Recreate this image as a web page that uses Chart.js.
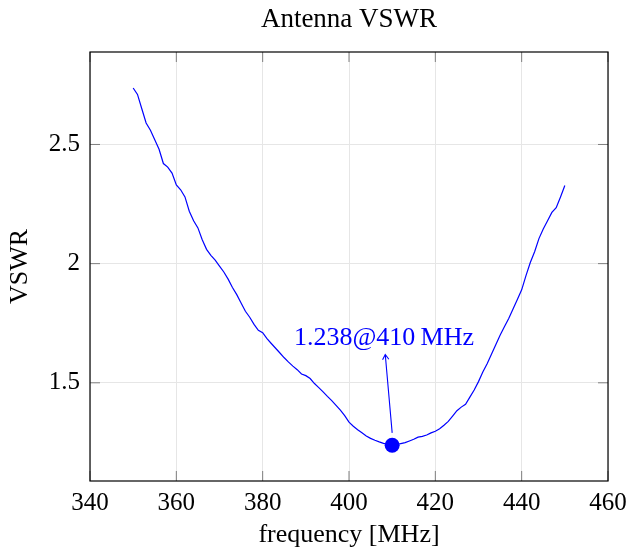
<!DOCTYPE html>
<html>
<head>
<meta charset="utf-8">
<title>Antenna VSWR</title>
<script src="https://cdn.jsdelivr.net/npm/chart.js@4.4.0/dist/chart.umd.min.js"></script>
<style>
  html, body { margin: 0; padding: 0; background: #fff; }
  #vswr-chart { display: block; }
</style>
</head>
<body>
<canvas id="vswr-chart" width="629" height="552"></canvas>
<script>
// measured antenna VSWR, 350 - 450 MHz
var freqs = [
  350, 351, 352, 353, 354, 355, 356, 357, 358, 359,
  360, 361, 362, 363, 364, 365, 366, 367, 368, 369,
  370, 371, 372, 373, 374, 375, 376, 377, 378, 379,
  380, 381, 382, 383, 384, 385, 386, 387, 388, 389,
  390, 391, 392, 393, 394, 395, 396, 397, 398, 399,
  400, 401, 402, 403, 404, 405, 406, 407, 408, 409,
  410, 411, 412, 413, 414, 415, 416, 417, 418, 419,
  420, 421, 422, 423, 424, 425, 426, 427, 428, 429,
  430, 431, 432, 433, 434, 435, 436, 437, 438, 439,
  440, 441, 442, 443, 444, 445, 446, 447, 448, 449,
  450
];
var vswr = [
  2.737, 2.71, 2.65, 2.59, 2.56, 2.52, 2.48, 2.42, 2.405, 2.38,
  2.33, 2.31, 2.28, 2.22, 2.18, 2.15, 2.10, 2.06, 2.035, 2.015,
  1.99, 1.965, 1.935, 1.90, 1.87, 1.835, 1.80, 1.775, 1.745, 1.72,
  1.71, 1.685, 1.665, 1.645, 1.625, 1.605, 1.587, 1.57, 1.555, 1.537,
  1.53, 1.518, 1.497, 1.48, 1.462, 1.443, 1.425, 1.405, 1.385, 1.362,
  1.335, 1.318, 1.303, 1.29, 1.277, 1.267, 1.259, 1.252, 1.246, 1.241,
  1.238, 1.241, 1.245, 1.249, 1.256, 1.263, 1.272, 1.275, 1.281, 1.29,
  1.297, 1.307, 1.322, 1.338, 1.36, 1.383, 1.398, 1.41, 1.44, 1.47,
  1.505, 1.545, 1.58, 1.62, 1.66, 1.70, 1.735, 1.77, 1.81, 1.85,
  1.89, 1.95, 2.005, 2.05, 2.105, 2.145, 2.18, 2.215, 2.235, 2.28,
  2.328
];

// minimum point
var minFreq = 410;
var minVswr = 1.238;

var xTicks = [340, 360, 380, 400, 420, 440, 460];
var yTicks = [1.5, 2, 2.5];
var yTickLabels = ["1.5", "2", "2.5"];

var titleText = "Antenna VSWR";

// annotation: text centre and arrow tip / tail in data units
var noteText = "1.238@410\u2009MHz";
var noteAt = { x: 408.1, y: 1.686 };
var arrowTip = { x: 408.4, y: 1.619 };
var arrowTail = { x: 410.0, y: 1.290 };

var serif = "'Liberation Serif', 'DejaVu Serif', serif";
var blue = "#0000ff";

var points = freqs.map(function (f, i) {
  return { x: f, y: vswr[i] };
});

var framePlugin = {
  id: "frame",
  afterDatasetsDraw: function (chart) {
    var ctx = chart.ctx;
    var area = chart.chartArea;
    var xs = chart.scales.x;
    var ys = chart.scales.y;

    ctx.save();
    // inner tick marks, like pgfplots
    ctx.strokeStyle = "#7f7f7f";
    ctx.lineWidth = 1;
    ctx.beginPath();
    xTicks.forEach(function (t) {
      var px = xs.getPixelForValue(t);
      ctx.moveTo(px, area.bottom);
      ctx.lineTo(px, area.bottom - 10);
      ctx.moveTo(px, area.top);
      ctx.lineTo(px, area.top + 10);
    });
    yTicks.forEach(function (t) {
      var py = ys.getPixelForValue(t);
      ctx.moveTo(area.left, py);
      ctx.lineTo(area.left + 10, py);
      ctx.moveTo(area.right, py);
      ctx.lineTo(area.right - 10, py);
    });
    ctx.stroke();

    // box round the plot
    ctx.strokeStyle = "#000";
    ctx.lineWidth = 1.2;
    ctx.strokeRect(area.left, area.top, area.right - area.left, area.bottom - area.top);

    // title centred over the plot box
    ctx.fillStyle = "#000";
    ctx.font = "27px " + serif;
    ctx.textAlign = "center";
    ctx.textBaseline = "middle";
    ctx.fillText(titleText, (area.left + area.right) / 2, 20);

    // arrow from the minimum up to the label
    var x0 = xs.getPixelForValue(arrowTail.x), y0 = ys.getPixelForValue(arrowTail.y);
    var x1 = xs.getPixelForValue(arrowTip.x), y1 = ys.getPixelForValue(arrowTip.y);
    var ang = Math.atan2(y1 - y0, x1 - x0);
    ctx.strokeStyle = blue;
    ctx.lineWidth = 1.1;
    ctx.beginPath();
    ctx.moveTo(x0, y0);
    ctx.lineTo(x1, y1);
    ctx.moveTo(x1 - 6 * Math.cos(ang - 0.55), y1 - 6 * Math.sin(ang - 0.55));
    ctx.lineTo(x1, y1);
    ctx.lineTo(x1 - 6 * Math.cos(ang + 0.55), y1 - 6 * Math.sin(ang + 0.55));
    ctx.stroke();

    ctx.fillStyle = blue;
    ctx.font = "26px " + serif;
    ctx.fillText(noteText, xs.getPixelForValue(noteAt.x), ys.getPixelForValue(noteAt.y));
    ctx.restore();
  }
};

var ctx = document.getElementById("vswr-chart");

window.myChart = new Chart(ctx, {
  type: "line",
  data: {
    datasets: [
      {
        label: "minimum",
        data: [{ x: minFreq, y: minVswr }],
        backgroundColor: blue,
        borderColor: blue,
        pointRadius: 7.5,
        pointBorderWidth: 0,
        showLine: false,
        order: 0,
      },
      {
        label: "VSWR",
        data: points,
        borderColor: blue,
        backgroundColor: blue,
        borderWidth: 1.2,
        pointRadius: 0,
        tension: 0,
        fill: false,
        order: 1,
      },
    ],
  },
  options: {
    responsive: false,
    animation: false,
    layout: { padding: { left: 0, right: 21, top: 52, bottom: 0 } },
    plugins: {
      legend: { display: false },
      tooltip: { enabled: false },
      title: { display: false },
    },
    scales: {
      x: {
        type: "linear",
        min: 340,
        max: 460,
        afterBuildTicks: function (scale) {
          scale.ticks = xTicks.map(function (v) { return { value: v }; });
        },
        afterFit: function (scale) {
          scale.height = 71;
          scale.paddingLeft = 0;
          scale.paddingRight = 0;
        },
        grid: { color: "#e6e6e6", lineWidth: 1, drawTicks: false },
        border: { display: false },
        ticks: {
          color: "#000",
          padding: 7,
          maxRotation: 0,
          font: { family: serif, size: 25 },
        },
        title: {
          display: true,
          text: "frequency [MHz]",
          color: "#000",
          font: { family: serif, size: 26 },
          padding: { top: 0, bottom: 1 },
        },
      },
      y: {
        type: "linear",
        min: 1.088,
        max: 2.888,
        afterBuildTicks: function (scale) {
          scale.ticks = yTicks.map(function (v) { return { value: v }; });
        },
        afterFit: function (scale) {
          scale.width = 90;
          scale.paddingTop = 0;
          scale.paddingBottom = 0;
        },
        grid: { color: "#e6e6e6", lineWidth: 1, drawTicks: false },
        border: { display: false },
        ticks: {
          color: "#000",
          padding: 10,
          font: { family: serif, size: 25 },
          callback: function (value) {
            var i = yTicks.indexOf(value);
            return i >= 0 ? yTickLabels[i] : "";
          },
        },
        title: {
          display: true,
          text: "VSWR",
          color: "#000",
          font: { family: serif, size: 26 },
          padding: { top: 5, bottom: 0 },
        },
      },
    },
  },
  plugins: [framePlugin],
});
</script>
</body>
</html>
